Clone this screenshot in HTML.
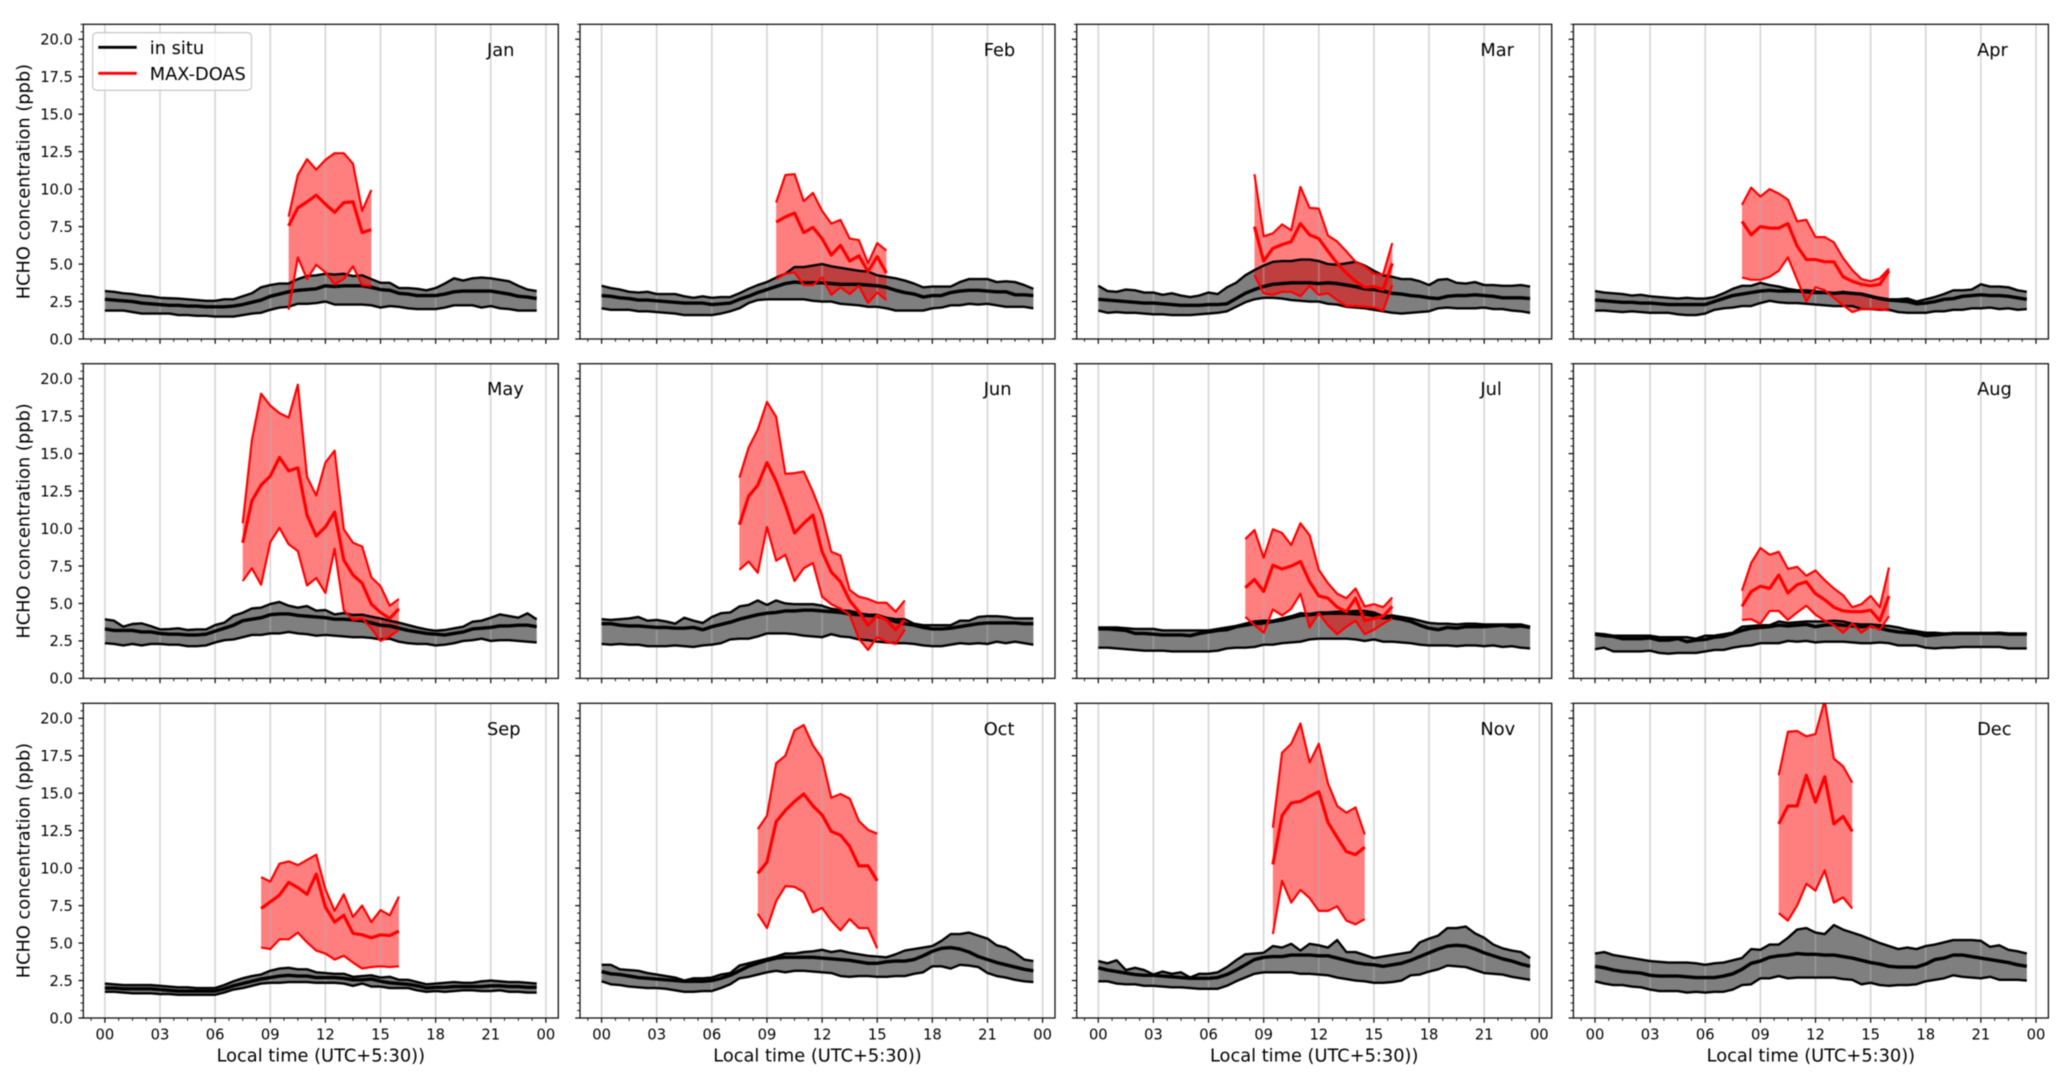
<!DOCTYPE html>
<html lang="en">
<head>
<meta charset="utf-8">
<title>HCHO concentration diurnal cycles by month</title>
<style>
html,body{margin:0;padding:0;background:#fff;width:2067px;height:1088px;overflow:hidden}
svg{display:block;filter:blur(0.45px)}
text{font-family:"DejaVu Sans","Liberation Sans",sans-serif;fill:#000}
.lbl{font-size:17.8px}
.tick{font-size:14.7px}
</style>
</head>
<body>
<svg id="chart" xmlns="http://www.w3.org/2000/svg" width="2067" height="1088" viewBox="0 0 2067 1088">
<rect x="0" y="0" width="2067" height="1088" fill="#fff"/>
<g id="panels"></g>

<g>
<text class="lbl" x="487" y="55.8">Jan</text>
<text class="lbl" x="983.7" y="55.8">Feb</text>
<text class="lbl" x="1480.4" y="55.8">Mar</text>
<text class="lbl" x="1977.1" y="55.8">Apr</text>
<text class="lbl" x="487" y="395.2">May</text>
<text class="lbl" x="983.7" y="395.2">Jun</text>
<text class="lbl" x="1480.4" y="395.2">Jul</text>
<text class="lbl" x="1977.1" y="395.2">Aug</text>
<text class="lbl" x="487" y="734.8">Sep</text>
<text class="lbl" x="983.7" y="734.8">Oct</text>
<text class="lbl" x="1480.4" y="734.8">Nov</text>
<text class="lbl" x="1977.1" y="734.8">Dec</text>
</g>

<g>
<text class="lbl" text-anchor="middle" transform="translate(29.5,181.6) rotate(-90)">HCHO concentration (ppb)</text>
<text class="lbl" text-anchor="middle" transform="translate(29.5,521) rotate(-90)">HCHO concentration (ppb)</text>
<text class="lbl" text-anchor="middle" transform="translate(29.5,860.6) rotate(-90)">HCHO concentration (ppb)</text>
</g>

<g>
<text class="lbl" text-anchor="middle" x="320.8" y="1061.7">Local time (UTC+5:30))</text>
<text class="lbl" text-anchor="middle" x="817.5" y="1061.7">Local time (UTC+5:30))</text>
<text class="lbl" text-anchor="middle" x="1314.2" y="1061.7">Local time (UTC+5:30))</text>
<text class="lbl" text-anchor="middle" x="1810.9" y="1061.7">Local time (UTC+5:30))</text>
</g>

<g>
<rect x="92.7" y="32.7" width="158.8" height="57.6" rx="4" ry="4" fill="#fff" fill-opacity="0.8" stroke="#ccc" stroke-width="1.3"/>
<line x1="98.3" y1="47.3" x2="136.7" y2="47.3" stroke="#000" stroke-width="2.8"/>
<text class="lbl" x="149.8" y="54">in situ</text>
<line x1="98.3" y1="73.3" x2="136.7" y2="73.3" stroke="#f00" stroke-width="2.8"/>
<text class="lbl" x="149.8" y="80">MAX-DOAS</text>
</g>
</svg>

<script>
// ---- Data (ppb). In situ series: half-hourly from 00:00 to 23:30. ----
const monthNames = ['jan','feb','mar','apr','may','jun','jul','aug','sep','oct','nov','dec'];
const xTickLabels = ['00','03','06','09','12','15','18','21','00'];
const xTickHours = [0,3,6,9,12,15,18,21,24];
const yTickLabels = ['0.0','2.5','5.0','7.5','10.0','12.5','15.0','17.5','20.0'];
const yTickValues = [0,2.5,5,7.5,10,12.5,15,17.5,20];

const janInsituHigh = [3.2,3.15,3.05,3.0,2.9,2.85,2.75,2.72,2.7,2.65,2.6,2.55,
2.55,2.65,2.65,2.85,3.05,3.45,3.6,3.7,3.7,4.0,4.2,4.25,
4.35,4.3,4.35,4.2,4.25,4.0,3.75,3.75,3.4,3.4,3.35,3.25,
3.4,3.7,4.05,3.9,4.05,4.1,4.05,3.95,3.85,3.55,3.3,3.2];
const janInsituMean = [2.65,2.6,2.55,2.5,2.4,2.35,2.3,2.25,2.25,2.2,2.2,2.15,
2.15,2.15,2.2,2.3,2.45,2.6,2.85,3.0,3.15,3.25,3.3,3.35,
3.55,3.5,3.55,3.55,3.55,3.45,3.3,3.25,3.05,3.0,2.9,2.9,
2.9,3.0,3.15,3.2,3.2,3.2,3.2,3.1,3.0,2.85,2.8,2.7];
const janInsituLow = [1.9,1.9,1.9,1.8,1.7,1.7,1.7,1.7,1.6,1.6,1.55,1.55,
1.5,1.5,1.5,1.6,1.7,1.75,1.95,2.1,2.15,2.35,2.35,2.4,
2.5,2.3,2.3,2.3,2.3,2.25,2.1,2.2,2.15,2.05,2.0,2.0,
2.0,2.1,2.25,2.25,2.25,2.1,2.2,2.05,2.0,1.9,1.9,1.9];

const febInsituHigh = [3.55,3.4,3.3,3.15,3.1,3.15,3.0,3.0,3.0,2.85,2.75,2.85,
2.75,2.8,2.8,3.05,3.35,3.6,3.8,4.1,4.35,4.8,4.8,4.9,
5.0,4.85,4.75,4.65,4.55,4.5,4.25,4.15,4.05,3.9,3.7,3.45,
3.5,3.5,3.5,3.8,4.0,4.0,4.0,3.8,3.85,3.8,3.6,3.35];
const febInsituMean = [2.9,2.85,2.75,2.7,2.6,2.6,2.55,2.5,2.45,2.4,2.4,2.4,
2.3,2.35,2.4,2.65,2.85,3.1,3.3,3.5,3.7,3.8,3.75,3.75,
3.75,3.7,3.65,3.65,3.65,3.6,3.55,3.45,3.25,3.1,3.0,2.8,
2.9,2.9,3.1,3.2,3.25,3.25,3.2,3.15,3.15,2.95,2.95,2.9];
const febInsituLow = [2.05,1.95,1.95,1.95,1.85,1.85,1.8,1.75,1.7,1.6,1.6,1.6,
1.6,1.7,1.85,2.05,2.4,2.6,2.65,2.65,2.65,2.65,2.65,2.55,
2.5,2.5,2.35,2.3,2.25,2.15,2.15,2.05,1.9,1.9,1.9,1.9,
2.05,2.1,2.25,2.25,2.35,2.3,2.35,2.25,2.15,2.15,2.15,2.05];

const marInsituHigh = [3.55,3.2,3.15,3.3,3.25,3.1,3.1,2.95,3.05,2.9,2.8,2.9,
3.1,3.0,3.45,3.75,4.25,4.6,4.9,5.15,5.2,5.2,5.3,5.3,
5.2,5.0,4.95,5.05,5.15,4.9,4.55,4.25,4.15,4.0,4.0,3.85,
3.6,3.95,4.0,3.75,3.7,3.8,3.6,3.6,3.55,3.55,3.6,3.5];
const marInsituMean = [2.65,2.6,2.55,2.5,2.45,2.4,2.4,2.35,2.3,2.25,2.25,2.25,
2.3,2.3,2.35,2.7,3.05,3.3,3.5,3.65,3.7,3.75,3.75,3.75,
3.7,3.75,3.7,3.6,3.5,3.35,3.3,3.2,3.05,3.0,2.9,2.85,
2.75,2.7,2.85,2.9,2.9,2.95,2.9,2.85,2.75,2.75,2.75,2.7];
const marInsituLow = [1.9,1.75,1.8,1.75,1.75,1.7,1.65,1.65,1.6,1.6,1.6,1.65,
1.7,1.75,1.85,2.15,2.45,2.65,2.75,2.75,2.7,2.6,2.55,2.5,
2.5,2.35,2.3,2.15,2.1,2.05,1.95,1.85,1.75,1.7,1.75,1.8,
1.85,2.05,2.1,2.05,2.05,2.05,2.1,2.0,2.0,1.9,1.85,1.75];

const aprInsituHigh = [3.2,3.1,3.05,3.0,2.9,2.95,2.85,2.8,2.75,2.7,2.75,2.7,
2.7,2.8,3.05,3.35,3.55,3.55,3.75,3.6,3.5,3.35,3.25,3.25,
3.2,3.1,3.05,3.15,3.05,3.0,2.85,2.75,2.65,2.65,2.7,2.5,
2.65,2.8,3.0,3.25,3.25,3.3,3.65,3.5,3.5,3.45,3.25,3.15];
const aprInsituMean = [2.6,2.55,2.5,2.45,2.45,2.4,2.4,2.35,2.3,2.3,2.3,2.3,
2.3,2.5,2.7,2.9,3.0,3.1,3.2,3.25,3.2,3.2,3.2,3.15,
3.1,3.1,3.05,3.1,3.05,3.0,2.85,2.7,2.6,2.55,2.5,2.35,
2.4,2.5,2.65,2.7,2.85,2.9,2.95,2.9,2.9,2.85,2.75,2.65];
const aprInsituLow = [1.9,1.9,1.85,1.8,1.85,1.8,1.75,1.75,1.75,1.65,1.6,1.6,
1.7,1.95,2.05,2.1,2.2,2.2,2.4,2.55,2.45,2.4,2.4,2.35,
2.3,2.25,2.2,2.2,2.2,2.0,2.0,1.95,1.95,1.8,1.75,1.75,
1.75,1.85,1.85,1.95,1.95,2.05,2.05,2.1,2.0,2.05,1.95,2.0];

const mayInsituHigh = [3.94,3.85,3.45,3.63,3.67,3.49,3.27,3.29,3.34,3.23,3.27,3.27,
3.56,3.72,4.18,4.38,4.67,4.72,4.96,5.1,4.85,4.72,4.83,4.52,
4.56,4.27,4.36,4.23,4.25,4.12,4.0,3.85,3.72,3.56,3.4,3.27,
3.18,3.23,3.34,3.45,3.78,3.85,4.05,4.27,4.16,4.05,4.34,3.94];
const mayInsituMean = [3.3,3.2,3.2,3.2,3.1,3.1,3.0,2.95,2.95,2.9,2.9,2.95,
3.15,3.35,3.55,3.85,3.95,4.05,4.25,4.3,4.3,4.2,4.15,4.1,
4.05,3.95,3.95,3.9,3.85,3.7,3.55,3.5,3.35,3.2,3.1,3.0,
2.95,2.9,3.0,3.1,3.3,3.35,3.4,3.5,3.5,3.55,3.55,3.45];
const mayInsituLow = [2.35,2.3,2.2,2.3,2.2,2.3,2.3,2.25,2.25,2.15,2.15,2.2,
2.4,2.55,2.6,2.75,2.9,2.9,3.0,3.0,3.1,3.0,2.95,2.85,
2.9,2.85,2.8,2.75,2.75,2.7,2.6,2.65,2.45,2.35,2.3,2.3,
2.2,2.25,2.35,2.5,2.55,2.65,2.5,2.55,2.55,2.5,2.45,2.4];

const junInsituHigh = [3.95,3.9,3.95,4.0,4.1,3.85,3.9,3.8,3.65,4.05,3.85,3.7,
4.1,4.35,4.4,4.8,4.9,5.2,4.9,5.2,5.0,4.95,4.95,4.95,
4.85,4.65,4.55,4.5,4.35,4.25,4.25,4.05,3.95,3.95,3.65,3.55,
3.55,3.55,3.55,3.85,3.85,4.1,4.15,4.15,4.1,4.0,4.0,4.0];
const junInsituMean = [3.65,3.65,3.55,3.5,3.5,3.45,3.4,3.4,3.35,3.35,3.4,3.25,
3.45,3.6,3.75,3.95,4.1,4.25,4.35,4.4,4.5,4.5,4.55,4.55,
4.5,4.45,4.4,4.3,4.25,4.2,4.15,4.0,3.8,3.65,3.55,3.4,
3.3,3.3,3.35,3.45,3.55,3.65,3.7,3.7,3.7,3.7,3.65,3.65];
const junInsituLow = [2.3,2.25,2.3,2.25,2.25,2.15,2.15,2.15,2.2,2.15,2.1,2.2,
2.25,2.35,2.6,2.65,2.65,2.8,3.0,3.0,3.0,2.95,2.85,2.8,
2.75,2.95,2.8,2.75,2.6,2.55,2.45,2.4,2.35,2.35,2.3,2.2,
2.15,2.15,2.25,2.35,2.3,2.35,2.3,2.45,2.35,2.45,2.35,2.25];

const julInsituHigh = [3.4,3.4,3.4,3.35,3.3,3.3,3.3,3.2,3.2,3.2,3.2,3.2,
3.2,3.3,3.4,3.5,3.65,3.8,3.85,3.85,4.0,4.15,4.35,4.3,
4.4,4.4,4.45,4.45,4.5,4.5,4.4,4.15,4.2,4.1,4.0,3.85,
3.7,3.65,3.65,3.6,3.65,3.65,3.6,3.6,3.6,3.6,3.6,3.45];
const julInsituMean = [3.3,3.3,3.25,3.2,3.0,3.0,2.95,2.9,2.9,2.9,2.85,3.0,
3.1,3.2,3.25,3.45,3.55,3.65,3.7,3.8,3.9,4.05,4.2,4.25,
4.3,4.35,4.35,4.35,4.3,4.3,4.2,4.05,4.05,3.95,3.8,3.55,
3.35,3.25,3.4,3.35,3.45,3.45,3.45,3.5,3.55,3.45,3.5,3.4];
const julInsituLow = [2.05,2.05,2.0,1.95,1.9,1.85,1.85,1.85,1.8,1.8,1.8,1.8,
1.8,1.85,2.0,2.05,2.05,2.1,2.25,2.25,2.35,2.4,2.45,2.6,
2.65,2.65,2.65,2.65,2.6,2.5,2.6,2.45,2.45,2.4,2.35,2.25,
2.2,2.2,2.2,2.15,2.2,2.2,2.15,2.2,2.1,2.15,2.05,2.0];

const augInsituHigh = [3.0,2.95,2.85,2.85,2.85,2.85,2.85,2.75,2.75,2.75,2.75,2.65,
2.85,2.85,2.95,3.05,3.45,3.5,3.55,3.55,3.8,3.7,3.75,3.8,
3.8,3.8,3.85,3.8,3.65,3.6,3.6,3.55,3.5,3.4,3.25,3.15,
3.05,3.05,3.0,3.0,3.0,3.0,3.0,3.0,3.05,3.0,3.0,3.0];
const augInsituMean = [2.95,2.85,2.8,2.65,2.65,2.65,2.7,2.55,2.55,2.65,2.45,2.55,
2.6,2.75,2.8,3.0,3.2,3.35,3.4,3.45,3.55,3.5,3.55,3.6,
3.45,3.55,3.6,3.55,3.5,3.45,3.5,3.35,3.2,3.1,3.05,3.0,
2.85,2.9,2.95,3.0,3.0,3.0,3.0,3.0,3.0,2.95,2.95,2.95];
const augInsituLow = [1.95,2.05,1.8,1.8,1.8,1.8,1.85,1.7,1.65,1.7,1.7,1.7,
1.8,1.9,1.9,2.05,2.15,2.2,2.35,2.35,2.35,2.5,2.45,2.5,
2.4,2.45,2.45,2.45,2.4,2.35,2.35,2.4,2.35,2.2,2.2,2.2,
2.05,2.0,2.05,2.05,2.1,2.1,2.1,2.1,2.1,2.0,2.0,2.0];

const sepInsituHigh = [2.3,2.25,2.2,2.2,2.2,2.2,2.15,2.1,2.05,2.05,2.0,2.0,
2.0,2.2,2.45,2.65,2.8,2.9,3.15,3.3,3.35,3.25,3.25,3.05,
3.0,2.95,2.95,2.75,2.8,2.85,2.7,2.75,2.55,2.55,2.4,2.25,
2.3,2.35,2.4,2.35,2.35,2.45,2.5,2.45,2.4,2.4,2.35,2.3];
const sepInsituMean = [2.0,2.0,1.95,1.95,1.95,1.95,1.9,1.85,1.8,1.8,1.8,1.8,
1.8,1.95,2.15,2.3,2.45,2.6,2.7,2.8,2.85,2.8,2.8,2.7,
2.7,2.7,2.65,2.55,2.55,2.6,2.45,2.35,2.3,2.25,2.15,2.0,
2.05,2.05,2.1,2.1,2.1,2.1,2.15,2.15,2.1,2.1,2.05,2.05];
const sepInsituLow = [1.75,1.75,1.7,1.65,1.65,1.65,1.6,1.6,1.55,1.55,1.55,1.55,
1.55,1.7,1.9,2.0,2.15,2.3,2.35,2.35,2.4,2.4,2.4,2.35,
2.35,2.35,2.3,2.15,2.3,2.1,2.1,2.0,2.0,2.0,1.85,1.75,
1.8,1.75,1.8,1.85,1.85,1.8,1.8,1.85,1.75,1.75,1.7,1.7];

const octInsituHigh = [3.55,3.55,3.25,3.2,3.15,3.0,2.9,2.8,2.7,2.5,2.65,2.65,
2.7,2.9,3.0,3.5,3.65,3.8,3.95,4.1,4.3,4.3,4.4,4.45,
4.55,4.4,4.5,4.35,4.25,4.15,4.1,4.05,4.25,4.5,4.6,4.7,
4.8,5.15,5.6,5.6,5.7,5.5,5.3,4.85,4.7,4.35,3.9,3.8];
const octInsituMean = [3.1,2.95,2.9,2.8,2.7,2.65,2.6,2.55,2.5,2.45,2.45,2.45,
2.5,2.65,2.85,3.15,3.45,3.65,3.85,4.0,4.05,4.05,4.05,4.05,
4.0,3.95,3.9,3.85,3.75,3.65,3.65,3.75,3.8,3.8,3.9,4.15,
4.45,4.65,4.7,4.6,4.4,4.1,3.9,3.7,3.55,3.4,3.25,3.15];
const octInsituLow = [2.45,2.25,2.2,2.1,2.05,2.0,2.0,1.95,1.85,1.75,1.75,1.8,
1.8,2.0,2.25,2.65,2.75,2.9,3.05,3.15,3.05,3.15,3.15,3.1,
3.05,3.0,2.8,2.75,2.8,2.8,2.75,2.75,2.8,2.8,2.95,3.05,
3.45,3.45,3.3,3.55,3.5,3.4,3.0,2.8,2.7,2.55,2.45,2.4];

const novInsituHigh = [3.8,3.65,3.85,3.2,3.35,3.2,2.9,3.1,2.95,3.05,2.7,2.95,
2.95,3.05,3.4,3.85,4.25,4.3,4.35,4.8,4.7,4.95,4.5,4.95,
4.85,4.7,5.2,4.4,4.4,4.2,4.0,4.1,4.2,4.3,4.4,5.05,
5.3,5.5,6.0,6.0,6.1,5.65,5.35,4.9,4.65,4.5,4.4,4.0];
const novInsituMean = [3.35,3.2,3.1,3.0,2.9,2.85,2.85,2.8,2.75,2.7,2.65,2.65,
2.65,2.7,2.9,3.2,3.55,3.9,4.05,4.1,4.1,4.2,4.2,4.2,
4.15,4.15,4.0,3.85,3.7,3.6,3.55,3.45,3.55,3.65,3.85,4.1,
4.35,4.6,4.8,4.85,4.8,4.6,4.35,4.15,3.95,3.8,3.6,3.45];
const novInsituLow = [2.45,2.45,2.3,2.25,2.25,2.15,2.15,2.1,2.05,2.05,2.0,1.95,
1.95,1.95,2.15,2.45,2.7,2.95,3.05,3.05,3.05,3.05,2.95,2.95,
2.9,2.85,2.7,2.6,2.5,2.45,2.35,2.35,2.4,2.5,2.85,2.9,
3.1,3.25,3.5,3.45,3.4,3.2,3.0,2.95,2.9,2.75,2.65,2.55];

const decInsituHigh = [4.3,4.4,4.2,4.1,4.0,3.9,3.8,3.75,3.7,3.7,3.7,3.65,
3.55,3.65,3.7,3.85,4.0,4.6,4.55,4.9,4.9,5.35,5.9,6.0,
5.7,5.6,6.2,5.9,5.7,5.5,5.25,5.0,4.8,4.6,4.7,4.6,
4.8,4.9,5.05,5.2,5.2,5.2,5.15,4.75,4.85,4.55,4.45,4.3];
const decInsituMean = [3.45,3.35,3.2,3.1,3.05,3.0,2.85,2.8,2.8,2.8,2.75,2.7,
2.7,2.7,2.8,2.95,3.25,3.65,3.8,4.05,4.15,4.2,4.3,4.25,
4.25,4.2,4.2,4.1,4.0,3.85,3.7,3.6,3.45,3.4,3.4,3.4,
3.6,3.9,4.0,4.2,4.2,4.1,4.0,3.9,3.8,3.7,3.55,3.45];
const decInsituLow = [2.45,2.3,2.2,2.2,2.1,2.05,1.9,1.8,1.8,1.8,1.7,1.75,
1.7,1.75,1.75,1.9,2.2,2.25,2.65,2.65,2.8,2.65,2.7,2.7,
2.7,2.7,2.7,2.6,2.55,2.25,2.35,2.2,2.15,2.2,2.2,2.25,
2.45,2.55,2.65,2.85,2.75,2.7,2.65,2.75,2.55,2.55,2.55,2.5];

// MAX-DOAS: half-hourly values beginning at the listed local hour for each month.
const doasStartHours = [10,9.5,8.5,8,7.5,7.5,8,8,8.5,8.5,9.5,10];

const janDoasHigh = [8.17,10.95,12.0,11.3,11.95,12.4,12.4,11.7,8.55,9.95];
const janDoasMean = [7.55,8.75,9.15,9.6,9.0,8.45,9.1,9.15,7.1,7.3];
const janDoasLow = [1.95,5.45,4.0,4.95,4.45,3.65,4.0,4.85,3.6,3.55];

const febDoasHigh = [9.1,10.95,11.0,9.2,9.75,8.55,7.7,7.95,6.7,6.6,5.05,6.4,5.9];
const febDoasMean = [7.8,8.15,8.4,7.1,7.45,6.7,5.6,6.25,5.2,5.55,4.5,5.5,4.4];
const febDoasLow = [4.0,4.35,4.45,3.6,3.6,4.1,2.95,3.45,3.0,3.55,2.4,3.1,2.6];

const marDoasHigh = [11.0,6.85,7.05,7.65,7.25,10.15,8.75,8.7,6.9,6.5,5.85,5.15,4.85,4.35,4.3,6.4];
const marDoasMean = [7.5,5.2,6.05,6.3,6.5,7.7,6.95,6.7,5.85,5.05,4.4,3.85,3.45,3.5,3.3,5.05];
const marDoasLow = [4.25,3.05,2.95,3.15,3.15,2.85,3.55,2.95,3.05,2.6,2.2,2.2,2.15,2.1,1.9,3.6];

const aprDoasHigh = [8.95,10.1,9.5,10.0,9.7,9.3,7.85,7.95,6.8,6.8,6.45,5.4,4.6,4.0,3.85,4.05,4.7];
const aprDoasMean = [7.85,6.95,7.5,7.4,7.4,7.7,6.2,5.3,5.3,5.15,5.15,4.15,3.85,3.65,3.55,3.65,4.55];
const aprDoasLow = [4.1,3.95,3.95,4.15,4.55,5.45,3.95,2.5,3.45,3.25,2.75,2.25,1.8,2.0,2.0,2.0,1.9];

const mayDoasHigh = [10.35,15.9,19.0,18.2,17.7,17.4,19.6,13.45,12.2,14.4,15.2,9.95,9.05,8.8,6.75,6.15,4.85,5.3];
const mayDoasMean = [9.05,11.85,12.9,13.5,14.75,13.85,14.05,10.9,9.5,10.1,11.1,7.9,6.9,6.35,4.95,4.4,4.0,4.65];
const mayDoasLow = [6.5,7.35,6.25,9.1,10.05,8.95,8.5,6.2,6.7,5.7,8.65,4.55,3.9,4.0,3.35,2.5,2.8,3.25];

const junDoasHigh = [13.4,15.4,16.6,18.45,17.45,13.65,13.7,13.8,12.45,10.9,8.45,8.2,5.9,5.45,5.3,5.05,5.05,4.45,5.2];
const junDoasMean = [10.25,12.15,12.9,14.4,13.15,11.55,9.7,10.35,10.9,8.45,7.1,6.45,5.2,4.45,3.55,4.2,3.9,3.25,3.9];
const junDoasLow = [7.25,7.8,7.05,10.1,7.85,8.25,6.5,7.35,7.7,5.45,4.95,4.65,4.25,2.65,1.9,2.75,2.45,2.3,3.25];

const julDoasHigh = [9.3,9.9,8.05,9.95,9.7,8.9,10.35,9.55,7.25,6.35,5.65,5.35,6.0,4.8,4.95,4.75,5.4];
const julDoasMean = [6.05,6.6,5.8,7.55,7.3,7.5,7.8,6.45,5.5,5.35,4.75,4.45,5.35,3.85,4.0,4.15,4.8];
const julDoasLow = [4.1,3.55,3.05,4.6,4.2,4.65,5.65,3.4,4.35,3.55,2.95,3.45,3.85,2.95,3.25,3.65,4.0];

const augDoasHigh = [5.85,7.7,8.7,8.25,8.45,7.3,7.45,6.85,7.2,6.55,6.0,5.55,4.75,4.95,5.5,4.75,7.4];
const augDoasMean = [4.8,5.8,6.15,6.0,6.9,5.7,6.25,6.45,5.65,5.25,4.75,4.5,4.45,4.45,4.55,3.85,5.5];
const augDoasLow = [3.9,3.95,3.65,4.5,4.5,3.9,4.4,4.85,4.25,3.85,3.55,3.05,3.65,3.05,3.5,3.25,4.15];

const sepDoasHigh = [9.4,9.1,10.3,10.45,10.2,10.55,10.9,8.6,7.15,8.25,6.75,7.5,6.4,7.2,6.85,8.1];
const sepDoasMean = [7.3,7.75,8.2,9.05,8.7,8.25,9.6,7.4,6.4,6.85,5.65,5.55,5.35,5.55,5.5,5.8];
const sepDoasLow = [4.7,4.6,5.25,5.25,5.7,5.05,4.5,4.3,3.9,4.15,3.7,3.3,3.4,3.45,3.4,3.45];

const octDoasHigh = [12.6,13.5,17.0,17.5,19.2,19.55,18.2,17.3,14.7,14.95,14.65,13.15,12.55,12.3];
const octDoasMean = [9.65,10.4,13.1,13.85,14.45,14.95,14.15,13.55,12.45,12.2,11.45,10.15,10.15,9.15];
const octDoasLow = [6.95,6.0,7.8,8.8,8.75,8.4,7.05,7.35,6.5,5.85,6.6,6.0,6.0,4.65];

const novDoasHigh = [12.7,17.7,18.3,19.65,17.05,18.3,15.65,14.15,13.7,14.05,12.25];
const novDoasMean = [10.25,13.5,14.35,14.45,14.8,15.1,13.05,12.05,11.1,10.9,11.4];
const novDoasLow = [5.6,9.15,7.7,8.55,8.0,7.15,7.15,7.45,6.5,6.25,6.6];

const decDoasHigh = [16.2,19.1,19.15,18.8,18.95,21.2,17.3,16.8,15.7];
const decDoasMean = [12.95,14.15,14.15,16.2,14.4,16.1,12.95,13.45,12.45];
const decDoasLow = [7.0,6.5,7.5,8.95,8.5,9.85,7.7,8.05,7.3];

const insituHighSeries = [janInsituHigh,febInsituHigh,marInsituHigh,aprInsituHigh,mayInsituHigh,junInsituHigh,julInsituHigh,augInsituHigh,sepInsituHigh,octInsituHigh,novInsituHigh,decInsituHigh];
const insituMeanSeries = [janInsituMean,febInsituMean,marInsituMean,aprInsituMean,mayInsituMean,junInsituMean,julInsituMean,augInsituMean,sepInsituMean,octInsituMean,novInsituMean,decInsituMean];
const insituLowSeries = [janInsituLow,febInsituLow,marInsituLow,aprInsituLow,mayInsituLow,junInsituLow,julInsituLow,augInsituLow,sepInsituLow,octInsituLow,novInsituLow,decInsituLow];
const doasHighSeries = [janDoasHigh,febDoasHigh,marDoasHigh,aprDoasHigh,mayDoasHigh,junDoasHigh,julDoasHigh,augDoasHigh,sepDoasHigh,octDoasHigh,novDoasHigh,decDoasHigh];
const doasMeanSeries = [janDoasMean,febDoasMean,marDoasMean,aprDoasMean,mayDoasMean,junDoasMean,julDoasMean,augDoasMean,sepDoasMean,octDoasMean,novDoasMean,decDoasMean];
const doasLowSeries = [janDoasLow,febDoasLow,marDoasLow,aprDoasLow,mayDoasLow,junDoasLow,julDoasLow,augDoasLow,sepDoasLow,octDoasLow,novDoasLow,decDoasLow];

// ---- Layout ----
const SVGNS = 'http://www.w3.org/2000/svg';
const panelW = 475, panelH = 314.7;
const colPitch = 496.7, firstLeft = 83.3;
const rowTop = r => r === 0 ? 24.3 : r === 1 ? 363.7 : 703.3;
const xMin = -1.175, xMax = 24.675, yMin = 0, yMax = 21;
const panelsRoot = document.getElementById('panels');

function make(tag, attrs, parent) {
  const el = document.createElementNS(SVGNS, tag);
  Object.keys(attrs).forEach(k => el.setAttribute(k, attrs[k]));
  parent.appendChild(el);
  return el;
}
function linePath(xs, ys) {
  return xs.map((x, i) => (i ? 'L' : 'M') + x.toFixed(2) + ' ' + ys[i].toFixed(2)).join('');
}
function bandPath(xs, hi, lo) {
  let d = linePath(xs, hi);
  for (let i = xs.length - 1; i >= 0; i--) d += 'L' + xs[i].toFixed(2) + ' ' + lo[i].toFixed(2);
  return d + 'Z';
}

monthNames.forEach((month, m) => {
  const row = Math.floor(m / 4), col = m % 4;
  const left = firstLeft + col * colPitch, top = rowTop(row), bottom = top + panelH;
  const xAxis = h => left + (h - xMin) / (xMax - xMin) * panelW;
  const yAxis = v => bottom - (v - yMin) / (yMax - yMin) * panelH;

  const g = make('g', {}, panelsRoot);
  
  

  const clipId = 'clip-' + month;
  const defs = make('defs', {}, g);
  const clip = make('clipPath', { id: clipId }, defs);
  make('rect', { x: left, y: top, width: panelW, height: panelH }, clip);
  const plot = make('g', { 'clip-path': 'url(#' + clipId + ')' }, g);

  const insituXs = insituMeanSeries[m].map((_, i) => xAxis(i * 0.5));
  const doasXs = doasMeanSeries[m].map((_, i) => xAxis(doasStartHours[m] + i * 0.5));
  const pxs = arr => arr.map(yAxis);

  const insituBand = make('path', { d: bandPath(insituXs, pxs(insituHighSeries[m]), pxs(insituLowSeries[m])), fill: '#000', 'fill-opacity': 0.5 }, plot);
  
  

  const doasBand = make('path', { d: bandPath(doasXs, pxs(doasHighSeries[m]), pxs(doasLowSeries[m])), fill: '#f00', 'fill-opacity': 0.5 }, plot);
  
  

  xTickHours.forEach((h, i) => {
    const gl = make('line', { x1: xAxis(h), x2: xAxis(h), y1: top, y2: bottom, stroke: '#b0b0b0', 'stroke-opacity': 0.5, 'stroke-width': 1.7 }, plot);
    
    
  });

  const insituLineDefs = [[insituHighSeries[m], 2.4, 'high'], [insituLowSeries[m], 2.4, 'low'], [insituMeanSeries[m], 3.4, 'mean']];
  insituLineDefs.forEach(([arr, w, key]) => {
    const ln = make('path', { d: linePath(insituXs, pxs(arr)), fill: 'none', stroke: '#000', 'stroke-width': w, 'stroke-linejoin': 'round' }, plot);
    
    
  });

  const doasLineDefs = [[doasHighSeries[m], 2.2, 'high'], [doasLowSeries[m], 2.2, 'low'], [doasMeanSeries[m], 3.2, 'mean']];
  doasLineDefs.forEach(([arr, w, key]) => {
    const ln = make('path', { d: linePath(doasXs, pxs(arr)), fill: 'none', stroke: '#f00', 'stroke-width': w, 'stroke-linejoin': 'round' }, plot);
    
    
  });

  // y ticks: major from the tick array, minors every fifth of a major step
  const yTicks = make('g', {}, g);
  
  
  yTickValues.forEach((v, i) => {
    make('line', { x1: left - 4.8, x2: left, y1: yAxis(v), y2: yAxis(v), stroke: '#000', 'stroke-width': 1.2 }, yTicks);
    if (col === 0) {
      const t = make('text', { class: 'tick', x: left - 10.4, y: yAxis(v) + 5.3, 'text-anchor': 'end' }, yTicks);
      t.textContent = yTickLabels[i];
      
      
    }
  });
  for (let k = 0; k <= 42; k++) {
    const v = k * 0.5;
    if (k % 5 !== 0) make('line', { x1: left - 2.8, x2: left, y1: yAxis(v), y2: yAxis(v), stroke: '#000', 'stroke-width': 0.9 }, yTicks);
  }

  // x ticks: major from the tick array, minors every quarter of a major step
  const xTicks = make('g', {}, g);
  
  
  xTickHours.forEach((h, i) => {
    make('line', { x1: xAxis(h), x2: xAxis(h), y1: bottom, y2: bottom + 4.8, stroke: '#000', 'stroke-width': 1.2 }, xTicks);
    if (row === 2) {
      const t = make('text', { class: 'tick', x: xAxis(h), y: bottom + 21.7, 'text-anchor': 'middle' }, xTicks);
      t.textContent = xTickLabels[i];
      
      
    }
  });
  for (let k = -1; k <= 32; k++) {
    const h = k * 0.75;
    if (k % 4 !== 0) make('line', { x1: xAxis(h), x2: xAxis(h), y1: bottom, y2: bottom + 2.8, stroke: '#000', 'stroke-width': 0.9 }, xTicks);
  }

  const frame = make('rect', { x: left, y: top, width: panelW, height: panelH, fill: 'none', stroke: '#111', 'stroke-width': 1.3 }, g);
  
  
});
</script>
</body>
</html>
